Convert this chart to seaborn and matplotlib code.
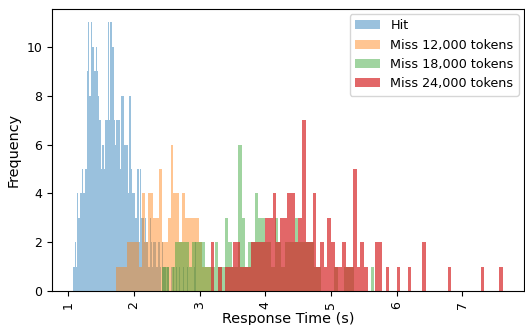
import numpy as np
import pandas as pd
import seaborn as sns
import matplotlib.pyplot as plt

# histogram bins: first edge, bin width, counts per bin
hit_start, hit_width = 1.0758, 0.01874
hit_counts = [1, 2, 1, 4, 3, 4, 4, 5, 4, 5,
              5, 9, 11, 8, 11, 10, 10, 9, 10, 9,
              8, 7, 5, 6, 6, 5, 7, 7, 11, 7,
              11, 10, 10, 7, 6, 7, 7, 7, 5, 8,
              8, 6, 6, 6, 4, 8, 8, 5, 4, 4,
              3, 3, 5, 2, 5, 3, 3, 2, 3, 2,
              2, 1, 3, 2, 1, 2, 2, 1, 1, 2,
              1, 0, 2, 1, 1, 0, 1, 1, 0, 1,
              0, 1, 0, 1, 0, 0, 1, 0, 0, 1,
              0, 0, 1, 0, 0, 0, 0, 0, 1, 2]

m12_start, m12_width = 1.7212, 0.04394
m12_counts = [1, 1, 1, 1, 2, 2, 2, 2, 1, 4,
              2, 4, 4, 3, 3, 5, 2, 2, 3, 6,
              4, 4, 2, 4, 3, 3, 3, 3, 3, 2,
              1, 1, 1]

m18_start, m18_width = 2.4273, 0.05045
m18_counts = [1, 1, 0, 1, 2, 2, 2, 2, 1, 2,
              2, 2, 2, 1, 1, 1, 2, 1, 1, 3,
              2, 1, 1, 6, 3, 1, 2, 2, 4, 3,
              3, 2, 2, 1, 3, 2, 1, 2, 2, 2,
              3, 2, 2, 2, 2, 2, 1, 1, 0, 0,
              0, 0, 1, 0, 0, 1, 1, 1, 0, 0,
              0, 0, 0, 1]

m24_start, m24_width = 3.1667, 0.0556
m24_counts = [2, 0, 1, 0, 1, 1, 2, 2, 1, 1,
              1, 2, 2, 2, 2, 3, 3, 4, 2, 3,
              3, 4, 4, 2, 3, 7, 2, 2, 4, 1,
              2, 1, 3, 2, 1, 1, 2, 1, 1, 5,
              1, 2, 1, 0, 0, 2, 2, 0, 1, 0,
              0, 1, 0, 0, 1, 0, 0, 0, 2, 0,
              0, 0, 0, 0, 0, 1, 0, 0, 0, 0,
              0, 0, 0, 0, 1, 0, 0, 0, 0, 1]

series = [
    ('Hit', hit_start, hit_width, hit_counts, 'tab:blue', 0.45),
    ('Miss 12,000 tokens', m12_start, m12_width, m12_counts, 'tab:orange', 0.45),
    ('Miss 18,000 tokens', m18_start, m18_width, m18_counts, 'tab:green', 0.45),
    ('Miss 24,000 tokens', m24_start, m24_width, m24_counts, 'tab:red', 0.7),
]

fig = plt.figure(figsize=(5.25, 3.25), dpi=100)
ax = fig.add_axes([52 / 525, 1 - 291 / 325, 472 / 525, 282 / 325])

for label, start, width, counts, color, alpha in series:
    edges = start + width * np.arange(len(counts) + 1)
    df = pd.DataFrame({'t': edges[:-1] + width / 2, 'n': counts})
    sns.histplot(data=df, x='t', weights='n', bins=edges.tolist(), color=color,
                 alpha=alpha, linewidth=0, edgecolor='none', label=label, ax=ax)

ax.set_xlabel('Response Time (s)', fontsize=10.4, labelpad=2.5)
ax.set_ylabel('Frequency', fontsize=10.4)
ax.tick_params(axis='both', labelsize=9)
ax.tick_params(axis='x', labelrotation=90)
ax.legend(loc='upper right', fontsize=9.2, borderaxespad=0.4)

fig.savefig('out.png', dpi=100)
